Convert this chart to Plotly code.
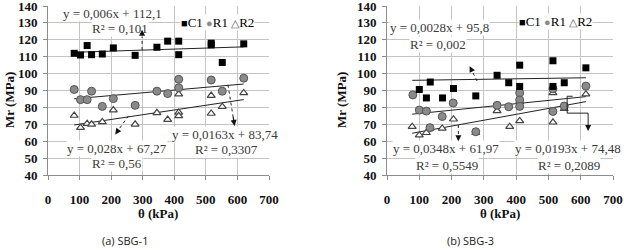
import plotly.graph_objects as go

# ---------------- data ----------------
# (a) SBG-1
l_c1_x = [83, 103, 124, 138, 172, 207, 276, 345, 379, 414, 414, 517, 517, 552, 620]
l_c1_y = [112, 111, 116.6, 111.2, 111.6, 115.2, 110.8, 115.6, 119.2, 119.2, 111.2, 118, 117, 106.6, 117.6]
l_r1_x = [83, 103, 124, 138, 172, 207, 276, 345, 379, 414, 414, 517, 552, 620]
l_r1_y = [90.6, 84.6, 84.6, 89.6, 80.6, 85.2, 81.2, 89.6, 88.2, 96.6, 91.6, 96.2, 89.6, 97.3]
l_r2_x = [83, 103, 124, 138, 172, 207, 276, 345, 379, 414, 414, 414, 517, 517, 552, 620]
l_r2_y = [75.2, 68, 70.4, 70, 71.4, 78.4, 70, 76.8, 72.8, 87.8, 77, 75, 87, 76.4, 80.4, 88.6]

# (b) SBG-3
r_c1_x = [100, 122, 134, 172, 206, 275, 341, 377, 411, 411, 514, 514, 549, 616]
r_c1_y = [90.6, 85.6, 95, 85.6, 91.2, 86.8, 99, 94.6, 105, 92.4, 107.6, 92.4, 94.6, 103.4]
r_r1_x = [80, 100, 122, 133, 171, 205, 275, 341, 377, 411, 411, 411, 514, 514, 549, 616]
r_r1_y = [87.4, 78.4, 77.8, 68, 74.6, 82.6, 65.6, 81.2, 80.4, 88.6, 84.4, 80.6, 91, 77.6, 80.8, 92.6]
r_r2_x = [78, 100, 122, 133, 171, 206, 275, 341, 380, 411, 411, 514, 514, 549, 616]
r_r2_y = [68.6, 63.6, 65, 67.6, 67.6, 73, 65, 78, 68.6, 72, 83.4, 71.2, 88.6, 79.2, 87.8]

# trendline coefficients (slope, intercept) as printed on the chart
l_fit = {"C1": (0.006, 112.1), "R1": (0.0163, 83.74), "R2": (0.028, 67.27)}
r_fit = {"C1": (0.0028, 95.8), "R1": (0.0193, 74.48), "R2": (0.0348, 61.97)}

l_eq = {"C1": ("y = 0,006x + 112,1", "R² = 0,101"),
        "R1": ("y = 0,0163x + 83,74", "R² = 0,3307"),
        "R2": ("y = 0,028x + 67,27", "R² = 0,56")}
r_eq = {"C1": ("y = 0,0028x + 95,8", "R² = 0,002"),
        "R1": ("y = 0,0193x + 74,48", "R² = 0,2089"),
        "R2": ("y = 0,0348x + 61,97", "R² = 0,5549")}

x_ticks = [0, 100, 200, 300, 400, 500, 600, 700]
y_ticks = [40, 50, 60, 70, 80, 90, 100, 110, 120, 130, 140]
captions = ["(a) SBG-1", "(b) SBG-3"]

# ---------------- figure ----------------
W, H = 624, 250
SERIF = "Liberation Serif"
fig = go.Figure()

def px_x(p):
    return p / W

def px_y(p):
    return 1 - p / H

panels = [
    ("x", "y", l_c1_x, l_c1_y, l_r1_x, l_r1_y, l_r2_x, l_r2_y, l_fit),
    ("x2", "y2", r_c1_x, r_c1_y, r_r1_x, r_r1_y, r_r2_x, r_r2_y, r_fit),
]

for xa, ya, cx, cy, r1x, r1y, r2x, r2y, fit in panels:
    allx = cx + r1x + r2x
    x0, x1 = min(allx), max(allx)
    for key in ["R2", "R1", "C1"]:
        a, b = fit[key]
        fig.add_trace(go.Scatter(x=[x0, x1], y=[a * x0 + b, a * x1 + b], mode="lines",
                                 line=dict(color="#222222", width=1), xaxis=xa, yaxis=ya,
                                 showlegend=False, hoverinfo="skip"))
    fig.add_trace(go.Scatter(x=r2x, y=r2y, mode="markers", name="R2", xaxis=xa, yaxis=ya,
                             marker=dict(symbol="triangle-up", size=7, color="white",
                                         line=dict(color="#444444", width=1.2)),
                             showlegend=False))
    fig.add_trace(go.Scatter(x=r1x, y=r1y, mode="markers", name="R1", xaxis=xa, yaxis=ya,
                             marker=dict(symbol="circle", size=8, color="#8a8a8a",
                                         line=dict(color="#555555", width=1)),
                             showlegend=False))
    fig.add_trace(go.Scatter(x=cx, y=cy, mode="markers", name="C1", xaxis=xa, yaxis=ya,
                             marker=dict(symbol="square", size=7, color="black"),
                             showlegend=False))

axis_common = dict(showgrid=True, gridcolor="#c4c4c4", gridwidth=1, zeroline=False,
                   showline=True, linecolor="#8c8c8c", linewidth=1, ticks="outside",
                   ticklen=4, tickcolor="#8c8c8c", automargin=False,
                   ticklabeloverflow="allow",
                   tickfont=dict(family=SERIF, size=13, color="#111111", weight="bold"))

ydom = [px_y(175), px_y(6)]
fig.update_layout(
    xaxis=dict(domain=[px_x(48), px_x(269)], range=[0, 700], tickvals=x_ticks,
               anchor="y", ticklabelstandoff=8, **axis_common),
    yaxis=dict(domain=ydom, range=[40, 140], tickvals=y_ticks, anchor="x",
               ticklabelstandoff=3, **axis_common),
    xaxis2=dict(domain=[px_x(387), px_x(613)], range=[0, 700], tickvals=x_ticks,
                anchor="y2", ticklabelstandoff=8, **axis_common),
    yaxis2=dict(domain=ydom, range=[40, 140], tickvals=y_ticks, anchor="x2",
                ticklabelstandoff=3, **axis_common),
)

annotations = []
eq_font = dict(family=SERIF, size=13, color="#3a3a3a")

def label(xpx, ypx, text, **kw):
    d = dict(x=px_x(xpx), y=px_y(ypx), xref="paper", yref="paper", text=text,
             showarrow=False, xanchor="center", yanchor="middle", font=eq_font,
             bgcolor="white", borderpad=0)
    d.update(kw)
    annotations.append(d)

# equation labels
label(112, 13, l_eq["C1"][0]); label(120, 29, l_eq["C1"][1])
label(117, 148, l_eq["R2"][0]); label(117, 163, l_eq["R2"][1])
label(225, 134, l_eq["R1"][0]); label(226, 149, l_eq["R1"][1])
label(439, 28, r_eq["C1"][0]); label(438, 45, r_eq["C1"][1])
label(446, 148, r_eq["R2"][0]); label(447, 165, r_eq["R2"][1])
label(568, 148, r_eq["R1"][0]); label(569, 165, r_eq["R1"][1])

# legends (symbol + name)
leg = ('<span style="color:black;font-size:11px">■</span>C1 '
       '<span style="color:#8a8a8a;font-size:11px">●</span>R1 '
       '<span style="color:#555555;font-size:11px">△</span>R2')
label(217, 23, leg, font=dict(family=SERIF, size=13, color="black"))
label(555, 22, leg, font=dict(family=SERIF, size=13, color="black"))

title_font = dict(family=SERIF, size=13, color="#111111", weight="bold")
for xt in [158, 500]:
    annotations.append(dict(x=px_x(xt), y=px_y(213), xref="paper", yref="paper",
                            text="θ (kPa)", showarrow=False, font=title_font,
                            xanchor="center", yanchor="middle"))
for xt in [9, 341]:
    annotations.append(dict(x=px_x(xt), y=px_y(100), xref="paper", yref="paper",
                            text="Mr (MPa)", showarrow=False, textangle=-90,
                            font=title_font, xanchor="center", yanchor="middle"))
# captions
for xt, cap in [(125, captions[0]), (470, captions[1])]:
    annotations.append(dict(x=px_x(xt), y=px_y(240), xref="paper", yref="paper",
                            text=cap, showarrow=False, xanchor="center", yanchor="middle",
                            font=dict(family="Open Sans", size=11, color="#222222")))

# pointer arrows (dotted leader + arrowhead)
shapes = []
def pointer(xa, ya, x0, y0, x1, y1, dash="dot"):
    shapes.append(dict(type="line", xref=xa, yref=ya, x0=x0, y0=y0, x1=x1, y1=y1,
                       line=dict(color="#222222", width=1, dash=dash)))
    annotations.append(dict(x=x1, y=y1, xref=xa, yref=ya, ax=x0 + (x1 - x0) * 0.75,
                            ay=y0 + (y1 - y0) * 0.75, axref=xa, ayref=ya, text="",
                            showarrow=True, arrowhead=2, arrowsize=1, arrowwidth=1.2,
                            arrowcolor="#111111", standoff=0))

pointer("x", "y", 298, 114.0, 298, 126.0)
pointer("x", "y", 570, 93.4, 591, 69.0)
pointer("x", "y", 255, 75.0, 213, 64.0)
pointer("x2", "y2", 279, 95.6, 256, 104.4)
pointer("x2", "y2", 221, 69.6, 221, 60)
# stepped solid leader for R1 of SBG-3
shapes.append(dict(type="path", xref="x2", yref="y2",
                   path="M 575,86.6 L 558,86.6 L 558,76.6 L 623,76.6 L 623,68",
                   line=dict(color="#222222", width=1)))
annotations.append(dict(x=623, y=66, xref="x2", yref="y2", ax=623, ay=70,
                        axref="x2", ayref="y2", text="", showarrow=True, arrowhead=2,
                        arrowsize=1, arrowwidth=1.2, arrowcolor="#111111", standoff=0))

fig.update_layout(width=W, height=H, autosize=False, margin=dict(l=0, r=0, t=0, b=0, pad=0),
                  paper_bgcolor="white", plot_bgcolor="white",
                  annotations=annotations, shapes=shapes, showlegend=False)

fig.write_html("out.html", config={"displayModeBar": False},
               post_script="document.body.style.margin='0';document.body.style.overflow='hidden';")
